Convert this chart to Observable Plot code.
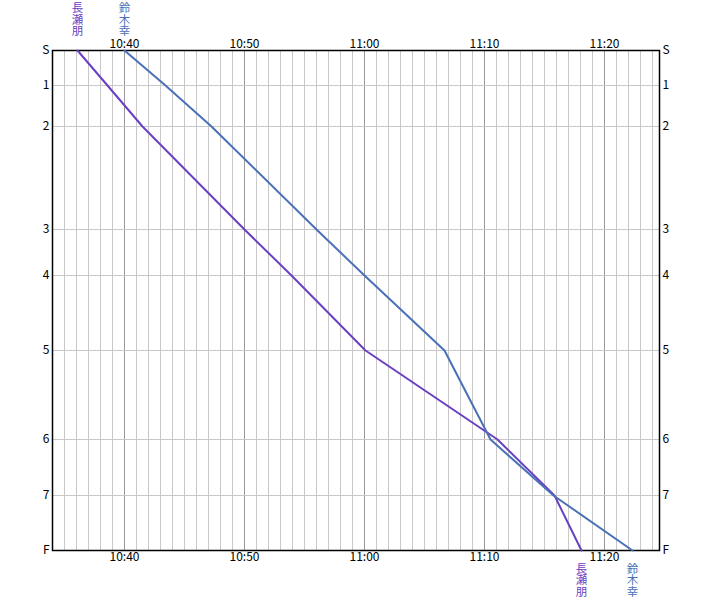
<!DOCTYPE html>
<html>
<head>
<meta charset="utf-8">
<script src="https://cdn.jsdelivr.net/npm/d3@7"></script>
<script src="https://cdn.jsdelivr.net/npm/@observablehq/plot@0.6"></script>
<style>
  html, body { margin: 0; padding: 0; background: #fff; }
  #chart svg { display: block; }
</style>
</head>
<body>
<div id="chart"></div>
<script>
// Controls and cumulative course distance (m)
const controls = ["S", "1", "2", "3", "4", "5", "6", "7", "F"];
const cumDist = [0, 350, 760, 1790, 2250, 3000, 3890, 4450, 5000];

// Runners
const runnerNames = ["長瀬朋", "鈴木幸"];
const runnerColors = ["#6a40c2", "#4a70b8"];
const nagaseTimes = ["10:36:03", "10:38:35", "10:41:30", "10:50:00", "10:53:53", "11:00:05", "11:11:04", "11:15:52", "11:18:04"];
const suzukiTimes = ["10:40:00", "10:43:27", "10:47:15", "10:56:02", "11:00:00", "11:06:42", "11:10:33", "11:15:45", "11:22:19"];

// Axis range
const timeStart = "10:34:00";
const timeEnd = "11:24:36";

const toDate = s => {
  const [h, m, sec] = s.split(":").map(Number);
  return new Date(Date.UTC(2000, 0, 1, h, m, sec));
};

const series = [nagaseTimes, suzukiTimes];
const rows = [];
series.forEach((times, r) => {
  times.forEach((t, i) => rows.push({runner: runnerNames[r], time: toDate(t), dist: cumDist[i], idx: i}));
});
const starts = rows.filter(d => d.idx === 0);
const finishes = rows.filter(d => d.idx === controls.length - 1);

const x0 = toDate(timeStart), x1 = toDate(timeEnd);
const nMin = Math.floor((x1 - x0) / 60000);
const minutes = d3.range(1, nMin + 1).map(i => new Date(x0.getTime() + i * 60000));
const minor = minutes.filter(d => d.getUTCMinutes() % 10 !== 0);
const major = minutes.filter(d => d.getUTCMinutes() % 10 === 0);
const ctrlLabel = v => controls[cumDist.indexOf(v)];
const hm = d3.utcFormat("%H:%M");

const font = "'Noto Sans CJK JP', 'DejaVu Sans', sans-serif";

const chart = Plot.plot({
  width: 711,
  height: 600,
  marginLeft: 52,
  marginRight: 52,
  marginTop: 50,
  marginBottom: 50,
  style: {fontFamily: font, fontSize: "12px", color: "#000", background: "#fff"},
  x: {type: "utc", domain: [x0, x1], round: true},
  y: {domain: [0, 5000], reverse: true, round: true},
  color: {domain: runnerNames, range: runnerColors},
  marks: [
    Plot.ruleX(minor, {x: d => d, stroke: "#c8c8c8", strokeOpacity: 1, strokeWidth: 1}),
    Plot.ruleX(major, {x: d => d, stroke: "#999999", strokeOpacity: 1, strokeWidth: 1}),
    Plot.ruleY(cumDist.slice(1, -1), {y: d => d, stroke: "#c8c8c8", strokeOpacity: 1, strokeWidth: 1}),
    Plot.frame({stroke: "#000", strokeWidth: 1.5}),
    Plot.axisX({anchor: "top", ticks: major, tickFormat: hm, tickSize: 0, tickPadding: 3, label: null, fontSize: 12}),
    Plot.axisX({anchor: "bottom", ticks: major, tickFormat: hm, tickSize: 0, tickPadding: 2, label: null, fontSize: 12}),
    Plot.axisY({anchor: "left", ticks: cumDist, tickFormat: ctrlLabel, tickSize: 0, tickPadding: 3, label: null, fontSize: 12}),
    Plot.axisY({anchor: "right", ticks: cumDist, tickFormat: ctrlLabel, tickSize: 0, tickPadding: 3, label: null, fontSize: 12}),
    Plot.line(rows, {x: "time", y: "dist", z: "runner", stroke: "runner", strokeWidth: 2, curve: "linear"}),
    Plot.text(starts, {x: "time", y: "dist", text: "runner", fill: "runner", textAnchor: "end", lineAnchor: "bottom", dy: -14, fontSize: 11.5}),
    Plot.text(finishes, {x: "time", y: "dist", text: "runner", fill: "runner", textAnchor: "start", lineAnchor: "bottom", dy: 12, fontSize: 11.5})
  ]
});
// vertical (tategaki) runner names
d3.select(chart).selectAll("text")
  .filter(function() { return runnerNames.includes(this.textContent); })
  .attr("y", null)
  .attr("dy", null)
  .attr("writing-mode", "vertical-rl")
  .style("writing-mode", "vertical-rl")
  .style("text-orientation", "upright");
document.getElementById("chart").appendChild(chart);
</script>
</body>
</html>
